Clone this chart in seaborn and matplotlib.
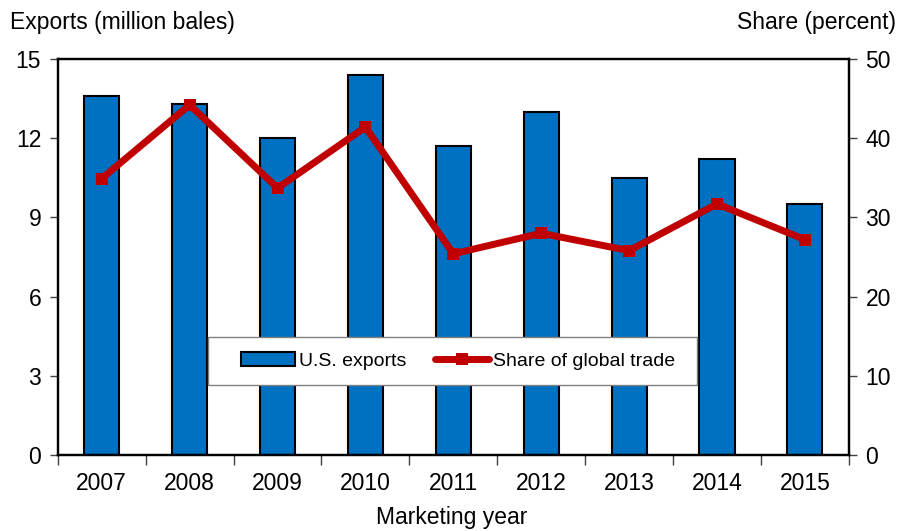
import numpy as np
import pandas as pd
import matplotlib
matplotlib.use("Agg")
import matplotlib.pyplot as plt
from matplotlib.patches import Rectangle
import seaborn as sns

years = ["2007", "2008", "2009", "2010", "2011", "2012", "2013", "2014", "2015"]
exports = [13.6, 13.3, 12.0, 14.4, 11.7, 13.0, 10.5, 11.2, 9.5]
share = [34.9, 44.2, 33.7, 41.4, 25.4, 28.0, 25.8, 31.7, 27.2]

sns.set_style("white")
plt.rcParams['font.family'] = ['Liberation Sans', 'DejaVu Sans']
plt.rcParams['text.color'] = 'black'
plt.rcParams['xtick.labelcolor'] = 'black'
plt.rcParams['ytick.labelcolor'] = 'black'

df = pd.DataFrame({"year": years, "exports": exports, "share": share})

fig = plt.figure(figsize=(9.03, 5.31), dpi=100)
ax = fig.add_axes([0.064, 0.143, 0.876, 0.746])

sns.barplot(data=df, x="year", y="exports", color="#0070C0", width=0.4,
            edgecolor="black", linewidth=1.5, saturation=1, ax=ax,
            label="U.S. exports")
ax.set_ylim(0, 15)
ax.set_xlim(-0.5, len(years) - 0.5)
ax.set_yticks([0, 3, 6, 9, 12, 15])
ax.set_xlabel("")
ax.set_ylabel("")

ax2 = ax.twinx()
sns.lineplot(x=np.arange(len(years)), y=df["share"], color="#C00000",
             linewidth=5, marker="s", markersize=9, markeredgewidth=0,
             ax=ax2, label="Share of global trade")
ax2.set_ylim(0, 50)
ax2.set_yticks([0, 10, 20, 30, 40, 50])
ax2.set_ylabel("")
ax2.get_legend().remove()

# x ticks: labels at centers, tick marks between categories
ax.set_xticks(np.arange(len(years)))
ax.set_xticklabels(years)
ax.set_xticks(np.arange(len(years) + 1) - 0.5, minor=True)
ax.tick_params(axis="x", which="major", length=0, labelsize=16.5, pad=12)
ax.tick_params(axis="x", which="minor", length=7, width=1, color="#404040",
               direction="out", bottom=True)
ax.tick_params(axis="y", length=6, width=1, color="#404040", direction="out",
               labelsize=16.5, left=True, pad=6)
ax2.tick_params(axis="y", length=6, width=1, color="#404040", direction="out",
                labelsize=16.5, right=True, pad=6)

for a in (ax, ax2):
    for s in a.spines.values():
        s.set_color("black")
        s.set_linewidth(1.6)

# legend box (drawn separately for wider side padding)
ax2.add_patch(Rectangle((0.19, 0.177), 0.618, 0.121, transform=ax2.transAxes,
                        facecolor="white", edgecolor="#808080", linewidth=1.0,
                        zorder=4))

h1, l1 = ax.get_legend_handles_labels()
h2, l2 = ax2.get_legend_handles_labels()
leg = ax2.legend(h1 + h2, l1 + l2, ncol=2, loc="center",
                 bbox_to_anchor=(0.506, 0.237), fontsize=14, frameon=False,
                 handlelength=2.8, handletextpad=0.2, columnspacing=1.45)
leg.set_zorder(5)
if ax.get_legend() is not None:
    ax.get_legend().remove()

fig.text(0.011, 0.958, "Exports (million bales)", fontsize=16.5, ha="left", va="center")
fig.text(0.992, 0.958, "Share (percent)", fontsize=16.5, ha="right", va="center")
fig.text(0.5, 0.004, "Marketing year", fontsize=16.5, ha="center", va="bottom")

fig.savefig("out.png", dpi=100)
